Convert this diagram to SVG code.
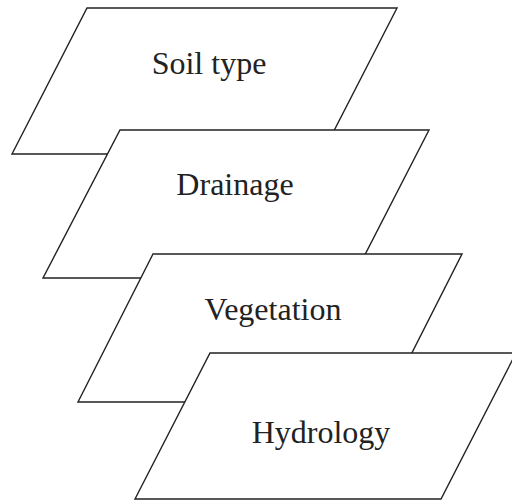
<svg xmlns="http://www.w3.org/2000/svg" width="512" height="500" viewBox="0 0 512 500">
<style>
.layer{fill:#fff;stroke:#222;stroke-width:1.4;stroke-linejoin:miter}
.lbl{font-family:"Liberation Serif","Times New Roman",serif;font-size:32px;fill:#222;text-anchor:middle}
</style>
<rect width="512" height="500" fill="#fff"/>
<g id="soil">
<polygon class="layer" points="87,8 397,8 322,154 12,154"/>
<text class="lbl" x="209" y="74">Soil type</text>
</g>
<g id="drainage">
<polygon class="layer" points="120,130 429,130 353,278 43,278"/>
<text class="lbl" x="235" y="195">Drainage</text>
</g>
<g id="vegetation">
<polygon class="layer" points="153,254 462,254 387,402 78,402"/>
<text class="lbl" x="273" y="320">Vegetation</text>
</g>
<g id="hydrology">
<polygon class="layer" points="210,353 516,353 441,499 135,499"/>
<text class="lbl" x="321" y="443">Hydrology</text>
</g>
<g id="connectors"/>
</svg>
